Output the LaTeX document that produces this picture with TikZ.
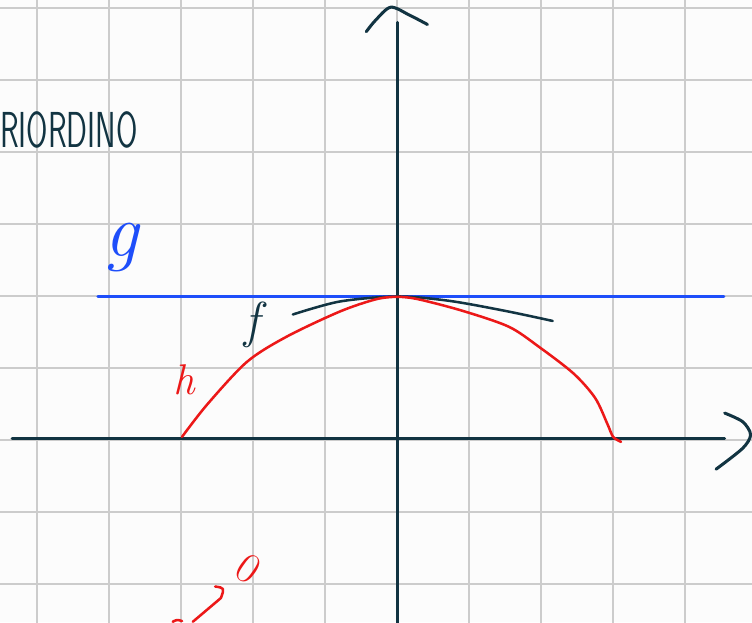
\documentclass[tikz,border=0pt]{standalone}
\usepackage{fontspec}
\definecolor{ink}{RGB}{18,52,66}
\definecolor{penblue}{RGB}{30,78,250}
\definecolor{penred}{RGB}{236,24,24}
\begin{document}
\begin{tikzpicture}[line cap=round,line join=round,
    axis/.style={draw=ink,line width=1.2pt},
    pen/.style={line width=1pt},
    lbl/.style={inner sep=0pt}]
      \useasboundingbox (-5.52,-2.54) rectangle (4.93,6.11);
      \clip (-5.52,-2.54) rectangle (4.93,6.11);
      \fill[white!99!black] (-5.52,-2.54) rectangle (4.93,6.11);
      \draw[gray!40,line width=.8pt] (-5.6,-2.6) grid (5,6.2);
      \draw[axis] (-5.35,0.02) -- (4.55,0.02);
      \draw[axis] plot[smooth] coordinates {(4.55,0.37) (4.80,0.25) (4.91,0.07) (4.80,-0.12) (4.43,-0.41)};
      \draw[axis] (0.01,-2.6) -- (0.01,5.8);
      \draw[axis] plot[smooth] coordinates {(-0.43,5.67) (-0.30,5.83) (-0.09,6.01) (0.17,5.90) (0.42,5.77)};
      \draw[penblue,line width=1.2pt] (-4.16,1.99) -- (4.54,1.99);
      \draw[pen,ink] plot[smooth] coordinates {(-1.45,1.74) (-0.8,1.92) (0,1.99) (0.72,1.93) (1.5,1.79) (2.16,1.65)};
      \draw[pen,penred] plot[smooth] coordinates {(-2.99,0.04) (-2.64,0.49) (-2.09,1.08) (-1.54,1.43) (-0.80,1.78) (-0.30,1.95) (0,1.985) (0.30,1.95) (0.91,1.79) (1.55,1.57) (1.97,1.29) (2.45,0.92) (2.75,0.58) (2.92,0.22) (3.0,0.04) (3.11,-0.03)};
      \draw[pen,penred] (-2.84,-2.53) -- (-2.45,-2.2);
      \draw[pen,penred] (-2.53,-2.04) .. controls (-2.40,-2.06) .. (-2.45,-2.2);
      \draw[pen,penred] (-3.12,-2.53) .. controls (-3.06,-2.50) .. (-2.99,-2.52);
      \node[lbl,anchor=east,text=ink,font=\sffamily\fontsize{20}{20}\selectfont] (title) at (-3.60,4.31) {\scalebox{0.61}[1]{RIORDINO}};
      \node[lbl,text=penblue,font=\itshape\fontsize{30}{30}\selectfont] (glbl) at (-3.83,2.67) {g};
      \node[lbl,text=ink,font=\itshape\fontsize{20}{20}\selectfont] (flbl) at (-2.01,1.60) {f};
      \node[lbl,text=penred,font=\itshape\fontsize{17}{17}\selectfont] (hlbl) at (-2.96,0.83) {h};
      \node[lbl,text=penred,rotate=-35,font=\fontsize{17}{17}\selectfont] (zero) at (-2.07,-1.79) {0};
    \end{tikzpicture}
\end{document}
